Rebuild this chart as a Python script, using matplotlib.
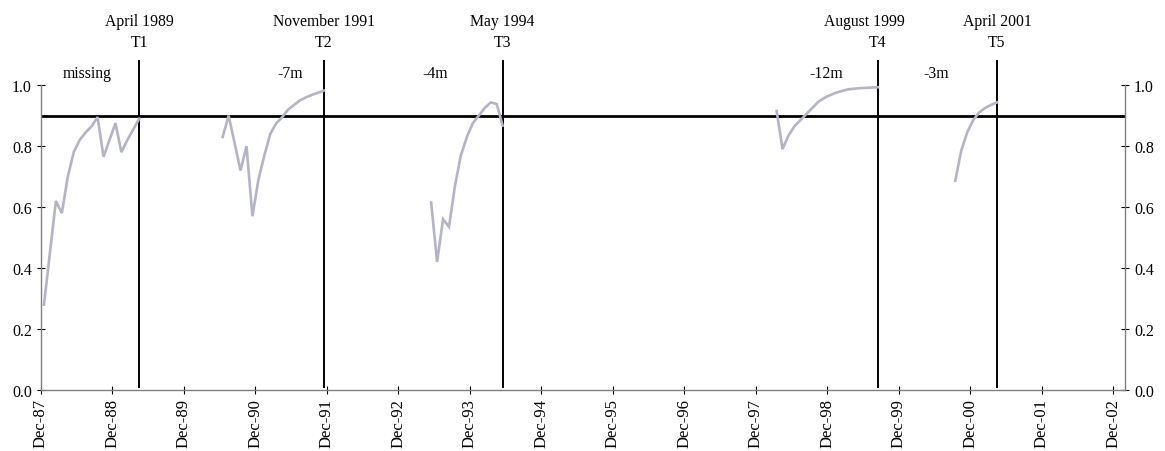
import matplotlib
matplotlib.use('Agg')
import matplotlib.pyplot as plt
from matplotlib.ticker import FormatStrFormatter
import numpy as np

plt.rcParams['font.family'] = ['Liberation Serif', 'DejaVu Serif']
plt.rcParams['font.size'] = 11.3

# months counted from Dec 1987 (0 = Dec-87), values plotted mid-month
seg1_start = 0
seg1 = [0.28, 0.45, 0.62, 0.58, 0.70, 0.78, 0.82, 0.845, 0.865, 0.895,
        0.765, 0.82, 0.875, 0.78, 0.82, 0.855, 0.89]
seg2_start = 30
seg2 = [0.83, 0.90, 0.81, 0.72, 0.80, 0.57, 0.69, 0.77, 0.84, 0.875,
        0.895, 0.92, 0.935, 0.95, 0.96, 0.968, 0.975, 0.982]
seg3_start = 65
seg3 = [0.615, 0.42, 0.56, 0.535, 0.67, 0.77, 0.83, 0.875, 0.90, 0.925,
        0.943, 0.938, 0.867]
seg4_start = 123
seg4 = [0.915, 0.79, 0.835, 0.865, 0.885, 0.905, 0.925, 0.945, 0.958,
        0.967, 0.975, 0.981, 0.986, 0.988, 0.990, 0.991, 0.992, 0.993]
seg5_start = 153
seg5 = [0.686, 0.785, 0.845, 0.885, 0.91, 0.925, 0.935, 0.943]

# turning points
t_months = [16, 47, 77, 140, 160]
t_dates = ['April 1989', 'November 1991', 'May 1994', 'August 1999', 'April 2001']
t_names = ['T1', 'T2', 'T3', 'T4', 'T5']
date_shift = [0, 0, 0, -2.2, 0]   # August label sits a bit left of its line
leads = ['missing', '-7m', '-4m', '-12m', '-3m']
lead_pos = [7.7, 41.8, 66.1, 131.8, 150.3]

threshold = 0.9

tick_months = list(range(0, 181, 12))
tick_labels = ['Dec-%02d' % ((87 + i) % 100) for i in range(len(tick_months))]

fig = plt.figure(figsize=(11.65, 4.52), dpi=100)
ax = fig.add_axes([0.0352, 0.135, 0.9305, 0.742])

line_col = '#b4b4c6'
for start, seg in [(seg1_start, seg1), (seg2_start, seg2), (seg3_start, seg3),
                   (seg4_start, seg4), (seg5_start, seg5)]:
    x = np.arange(start, start + len(seg)) + 0.5
    ax.plot(x, seg, color=line_col, lw=1.9, solid_joinstyle='miter', zorder=3)

ax.axhline(threshold, color='black', lw=2.0, zorder=2)
for m, d, n, sh in zip(t_months, t_dates, t_names, date_shift):
    ax.plot([m + 0.5, m + 0.5], [0.01, 1.08], color='black', lw=1.4, zorder=2)
    ax.text(m + 0.5 + sh, 1.21, d, ha='center', va='center', clip_on=False)
    ax.text(m + 0.5, 1.14, n, ha='center', va='center', clip_on=False)
for p, s in zip(lead_pos, leads):
    ax.text(p, 1.04, s, ha='center', va='center')

ax.set_xlim(0, 182)
ax.set_ylim(0, 1.1)
ax.set_xticks(tick_months)
ax.set_xticklabels(tick_labels, rotation=90, fontsize=12)
ax.set_yticks([0, 0.2, 0.4, 0.6, 0.8, 1.0])
ax.yaxis.set_major_formatter(FormatStrFormatter('%.1f'))

for s in ['left', 'right']:
    ax.spines[s].set_bounds(0, 1.0)
for s in ['left', 'right', 'bottom']:
    ax.spines[s].set_color('#808080')
    ax.spines[s].set_linewidth(1.0)
ax.spines['top'].set_visible(False)
ax.tick_params(axis='both', direction='inout', length=6, color='black', width=0.8)
ax.tick_params(axis='y', left=True, right=True, labelleft=True, labelright=True,
               labelsize=11.5)
ax.tick_params(axis='x', pad=3)

fig.savefig('out.png', dpi=100)
